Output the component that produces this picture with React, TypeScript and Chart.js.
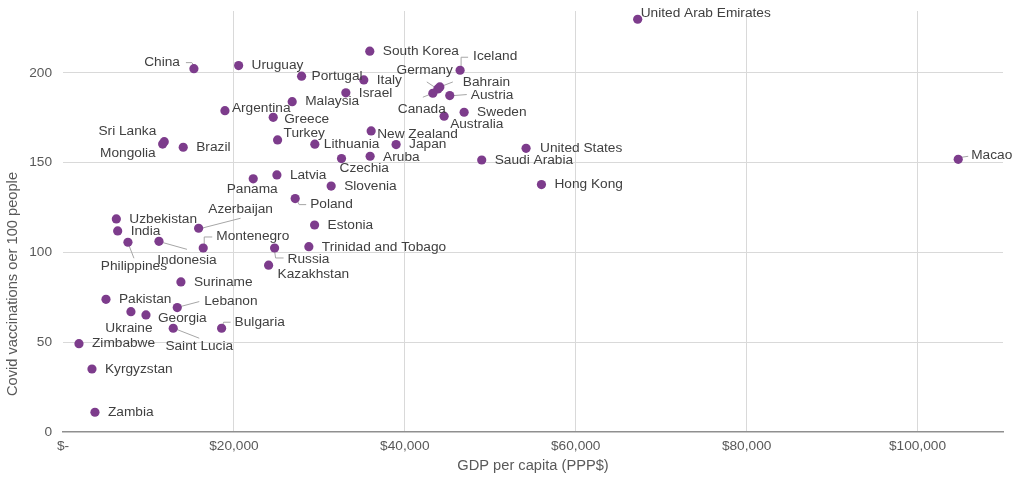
import React, { useEffect, useRef } from "react";
import { Chart, registerables } from "chart.js";

Chart.register(...registerables);

const countries: string[] = [
  "United Arab Emirates", "South Korea", "Iceland", "Italy", "Portugal", "Israel",
  "Germany", "Bahrain", "Canada", "Austria", "Sweden", "Australia", "Malaysia",
  "Argentina", "Greece", "Turkey", "China", "Uruguay", "Sri Lanka", "Mongolia",
  "Brazil", "Lithuania", "New Zealand", "Japan", "Aruba", "Czechia", "United States",
  "Saudi Arabia", "Hong Kong", "Macao", "Panama", "Latvia", "Slovenia", "Poland",
  "Estonia", "Uzbekistan", "India", "Azerbaijan", "Philippines", "Indonesia",
  "Montenegro", "Russia", "Trinidad and Tobago", "Kazakhstan", "Suriname", "Pakistan",
  "Ukraine", "Georgia", "Lebanon", "Saint Lucia", "Bulgaria", "Zimbabwe", "Kyrgyzstan",
  "Zambia",
];

const gdpPerCapita: number[] = [
  67250, 35900, 46470, 35200, 27920, 33100,
  43860, 44100, 43280, 45260, 46940, 44600, 26820,
  18950, 24600, 25110, 15320, 20550, 11850, 11660,
  14070, 29470, 36060, 38980, 35940, 32590, 54190,
  49000, 55990, 104760, 22260, 25030, 31380, 27170,
  29440, 6240, 6400, 15870, 7600, 11230,
  16410, 24760, 28770, 24060, 13800, 5030,
  7950, 9710, 13370, 12900, 18560, 1870, 3390,
  3740,
];

const vaccinationsPer100: number[] = [
  229.9, 212.1, 201.5, 196.1, 198.2, 188.9,
  191.1, 192.2, 188.7, 187.4, 178.1, 175.9, 184.0,
  179.0, 175.3, 162.7, 202.4, 204.1, 161.7, 160.4,
  158.6, 160.3, 167.7, 160.1, 153.6, 152.3, 158.0,
  151.5, 137.8, 151.9, 141.0, 143.2, 137.0, 130.0,
  115.3, 118.7, 112.0, 113.5, 105.7, 106.2,
  102.5, 102.5, 103.2, 92.9, 83.6, 73.9,
  67.0, 65.2, 69.3, 57.8, 57.8, 49.2, 35.1,
  11.0,
];

const xTickValues: number[] = [0, 20000, 40000, 60000, 80000, 100000];
const yTickValues: number[] = [0, 50, 100, 150, 200];

const xAxisTitle = "GDP per capita (PPP$)";
const yAxisTitle = "Covid vaccinations oer 100 people";

// Label placement (pixel offsets from each dot) — styling only.
type Placement = { dx: number; dy: number; align?: CanvasTextAlign; leader?: number[][] };
const labelPlacement: Record<string, Placement> = {
  "United Arab Emirates": { dx: 3, dy: -6 },
  "Iceland": { dx: 13, dy: -14, leader: [[1, -4], [1, -13], [8, -13]] },
  "Germany": { dx: 15, dy: -19, align: "right", leader: [[-11, -7], [4, 3]] },
  "Bahrain": { dx: 23, dy: -5, leader: [[0, 0], [13, -5]] },
  "Canada": { dx: -11, dy: 16, align: "center", leader: [[-10, 4], [0, 0]] },
  "Austria": { dx: 21, dy: 0, leader: [[4, 0], [17, -1]] },
  "Australia": { dx: 6, dy: 8 },
  "Portugal": { dx: 10, dy: 0 },
  "Argentina": { dx: 7, dy: -2 },
  "Greece": { dx: 11, dy: 2 },
  "Turkey": { dx: 6, dy: -7 },
  "Lithuania": { dx: 9, dy: 0 },
  "New Zealand": { dx: 6, dy: 3 },
  "Aruba": { dx: 13, dy: 1 },
  "Czechia": { dx: -2, dy: 10 },
  "United States": { dx: 14, dy: 0 },
  "Macao": { dx: 13, dy: -4, leader: [[3, -2], [10, -3]] },
  "China": { dx: -14, dy: -6, align: "right", leader: [[-8, -6], [-2, -6], [0, -3]] },
  "Sri Lanka": { dx: -8, dy: -10, align: "right" },
  "Mongolia": { dx: -7, dy: 9, align: "right" },
  "Panama": { dx: -1, dy: 10, align: "center" },
  "Poland": { dx: 15, dy: 6, leader: [[2, 2], [4, 6], [11, 6]] },
  "Azerbaijan": { dx: 42, dy: -19, align: "center", leader: [[3, 0], [42, -10]] },
  "Montenegro": { dx: 13, dy: -12, leader: [[1, -3], [1, -11], [9, -11]] },
  "Indonesia": { dx: 28, dy: 19, align: "center", leader: [[3, 1], [28, 8]] },
  "Philippines": { dx: 6, dy: 24, align: "center", leader: [[1, 3], [6, 16]] },
  "Russia": { dx: 13, dy: 11, leader: [[0, 3], [1, 10], [9, 10]] },
  "Trinidad and Tobago": { dx: 13, dy: 1 },
  "Kazakhstan": { dx: 9, dy: 9 },
  "Lebanon": { dx: 27, dy: -6, leader: [[3, -1], [22, -6]] },
  "Georgia": { dx: 12, dy: 3 },
  "Ukraine": { dx: -2, dy: 17, align: "center" },
  "Saint Lucia": { dx: 26, dy: 18, align: "center", leader: [[3, 1], [26, 10]] },
  "Bulgaria": { dx: 13, dy: -6, leader: [[1, -3], [2, -6], [9, -6]] },
};

const FONT = "'Liberation Sans', Arial, sans-serif";
const PURPLE = "#7D3C8C";

const labelsPlugin = {
  id: "countryLabels",
  beforeDatasetsDraw(chart: any) {
    const ctx = chart.ctx;
    const meta = chart.getDatasetMeta(0);
    ctx.save();
    ctx.strokeStyle = "#a6a6a6";
    ctx.lineWidth = 1;
    meta.data.forEach((el: any, i: number) => {
      const p = labelPlacement[countries[i]];
      if (!p || !p.leader) return;
      ctx.beginPath();
      p.leader.forEach((pt, j) => {
        const x = el.x + pt[0];
        const y = el.y + pt[1];
        if (j === 0) ctx.moveTo(x, y);
        else ctx.lineTo(x, y);
      });
      ctx.stroke();
    });
    ctx.restore();
  },
  afterDatasetsDraw(chart: any) {
    const ctx = chart.ctx;
    const meta = chart.getDatasetMeta(0);
    ctx.save();
    ctx.font = `13.7px ${FONT}`;
    ctx.fillStyle = "#404040";
    ctx.textBaseline = "middle";
    meta.data.forEach((el: any, i: number) => {
      const p = labelPlacement[countries[i]] || { dx: 13, dy: 0 };
      ctx.textAlign = p.align || "left";
      ctx.fillText(countries[i], el.x + p.dx, el.y + p.dy);
    });
    ctx.restore();
  },
  afterDraw(chart: any) {
    const ctx = chart.ctx;
    const area = chart.chartArea;
    ctx.save();
    ctx.font = `14.67px ${FONT}`;
    ctx.fillStyle = "#595959";
    ctx.textAlign = "center";
    ctx.textBaseline = "middle";
    ctx.fillText(xAxisTitle, (area.left + area.right) / 2, 466);
    ctx.translate(13, 284);
    ctx.rotate(-Math.PI / 2);
    ctx.fillText(yAxisTitle, 0, 0);
    ctx.restore();
  },
};

export default function App() {
  const canvasRef = useRef<HTMLCanvasElement | null>(null);

  useEffect(() => {
    if (!canvasRef.current) return;
    const points = countries.map((_, i) => ({ x: gdpPerCapita[i], y: vaccinationsPer100[i] }));
    const chart = new Chart(canvasRef.current, {
      type: "scatter",
      data: {
        datasets: [
          {
            label: "Countries",
            data: points,
            backgroundColor: PURPLE,
            borderColor: PURPLE,
            borderWidth: 0,
            pointRadius: 4.6,
            pointHoverRadius: 4.6,
          },
        ],
      },
      options: {
        responsive: false,
        animation: false,
        events: [],
        layout: { autoPadding: false, padding: { left: 0, right: 21, top: 11, bottom: 0 } },
        plugins: {
          legend: { display: false },
          tooltip: { enabled: false },
        },
        scales: {
          x: {
            type: "linear",
            min: 0,
            max: 110000,
            afterFit: (scale: any) => {
              scale.height = 45;
              scale.paddingLeft = 0;
              scale.paddingRight = 0;
            },
            afterBuildTicks: (scale: any) => {
              scale.ticks = xTickValues.map((v) => ({ value: v }));
            },
            ticks: {
              color: "#595959",
              font: { family: FONT, size: 13.7 },
              padding: 6,
              maxRotation: 0,
              autoSkip: false,
              callback: (v: any) => (Number(v) === 0 ? "$-" : "$" + Number(v).toLocaleString("en-US")),
            },
            grid: {
              color: (c: any) => (c.tick && c.tick.value === 0 ? "rgba(0,0,0,0)" : "#d9d9d9"),
              drawTicks: false,
              lineWidth: 1,
            },
            border: { display: true, color: "#8f8f8f", width: 1.5 },
          },
          y: {
            type: "linear",
            min: 0,
            max: 234.5,
            afterFit: (scale: any) => {
              scale.width = 63;
              scale.paddingTop = 0;
              scale.paddingBottom = 0;
            },
            afterBuildTicks: (scale: any) => {
              scale.ticks = yTickValues.map((v) => ({ value: v }));
            },
            ticks: {
              color: "#595959",
              font: { family: FONT, size: 13.7 },
              padding: 11,
              autoSkip: false,
            },
            grid: {
              color: (c: any) => (c.tick && c.tick.value === 0 ? "rgba(0,0,0,0)" : "#d9d9d9"),
              drawTicks: false,
              lineWidth: 1,
            },
            border: { display: false },
          },
        },
      },
      plugins: [labelsPlugin],
    });
    return () => chart.destroy();
  }, []);

  return (
    <div style={{ position: "absolute", left: 0, top: 0, width: 1024, height: 477, background: "#fff" }}>
      <canvas ref={canvasRef} width={1024} height={477} style={{ display: "block" }} />
    </div>
  );
}
